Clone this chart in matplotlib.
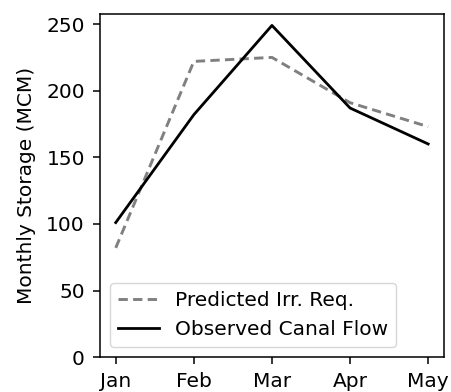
import matplotlib
matplotlib.use('Agg')
import matplotlib.pyplot as plt

# Du lieu doc tu bieu do
months = ['Jan', 'Feb', 'Mar', 'Apr', 'May']
predicted = [82, 222, 225, 191, 173]
observed = [101, 182, 249, 187, 160]

fs = 14.5
fig = plt.figure(figsize=(4.51, 3.92), dpi=100)
ax = fig.add_axes([0.222, 0.089, 0.762, 0.875])

ax.plot(months, predicted, '--', color='gray', lw=2.1, dashes=(3.2, 1.8),
        label='Predicted Irr. Req.')
ax.plot(months, observed, '-', color='black', lw=2.0, label='Observed Canal Flow')

ax.set_ylim(0, 257.5)
ax.set_yticks([0, 50, 100, 150, 200, 250])
ax.set_ylabel('Monthly Storage (MCM)', fontsize=fs, labelpad=7)
ax.tick_params(labelsize=fs, length=5, width=1.1, pad=6)
for s in ax.spines.values():
    s.set_linewidth(1.1)
ax.legend(loc='lower left', fontsize=fs)

plt.savefig('out.png', dpi=100)
